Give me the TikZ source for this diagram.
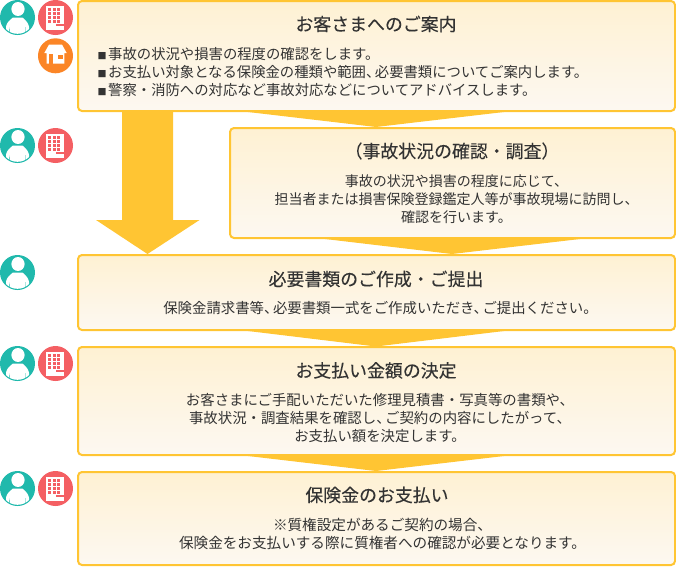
\documentclass[tikz,border=0pt]{standalone}
\usepackage{fontspec}
\setmainfont{Noto Sans CJK JP}
\definecolor{gold}{HTML}{FFC533}
\definecolor{teal}{HTML}{20B9AC}
\definecolor{coral}{HTML}{F45F63}
\definecolor{orng}{HTML}{FB8526}
\definecolor{ink}{HTML}{333333}
\definecolor{boxtop}{HTML}{FEF1D3}
\definecolor{boxbot}{HTML}{FDF8F1}
\newcommand{\cm}{、\kern-5.5pt\relax}
\newcommand{\sq}{{\fontsize{9}{18}\selectfont ■}\kern1.5pt\relax}
\tikzset{
  x=1pt,y=-1pt,
  card/.style={draw=gold,line width=2pt,rounded corners=4pt,top color=boxtop,bottom color=boxbot,inner sep=0pt,outer sep=0pt},
  ttl/.style={font=\fontsize{17.9}{20}\selectfont\addfontfeature{FakeBold=0.15},text=ink,anchor=center},
  body/.style={font=\fontsize{14.4}{18}\selectfont,text=ink,align=center,anchor=center,inner sep=0pt},
  flow/.style={fill=gold,draw=none},
}
\newcommand{\person}[2]{%
  \begin{scope}[shift={(#1,#2)}]
    \fill[teal] (17.5,17.5) circle (17.5);
    \fill[white] (18,9) ellipse (6.6 and 7);
    \begin{scope}
      \clip (17.5,17.5) circle (16.3);
      \fill[white] (6,36) -- (6,26.5) .. controls (7,22) and (10,20) .. (13,17.5) -- (22.5,17.5) .. controls (25,20) and (28,22) .. (29,26.5) -- (29,36) -- cycle;
      \fill[teal] (9,36) -- (9.6,27) -- (10.2,36) -- cycle;
      \fill[teal] (25,36) -- (25.5,27) -- (26,36) -- cycle;
    \end{scope}
  \end{scope}}
\newcommand{\office}[2]{%
  \begin{scope}[shift={(#1,#2)}]
    \fill[coral] (17.5,17.5) circle (17.5);
    \fill[white] (8,6) rectangle (26,29.5);
    \fill[coral] (18,24) rectangle (26,26);
    \foreach \cx in {10,14.5,19} \foreach \cy in {8,12,16,20}
      \fill[coral] (\cx,\cy) rectangle +(3,3);
  \end{scope}}
\newcommand{\house}[2]{%
  \begin{scope}[shift={(#1,#2)}]
    \fill[orng] (17.5,17.5) circle (17.5);
    \fill[white] (6.3,14.7) -- (11,6.3) -- (24,6.3) -- (28.7,14.7) -- (26.3,14.7) -- (26.3,25.3) -- (8.7,25.3) -- (8.7,14.7) -- cycle;
    \fill[orng] (11,15.3) rectangle (15.3,25.3);
    \fill[orng] (20.3,17) rectangle (24.7,21);
  \end{scope}}
\begin{document}
\begin{tikzpicture}
\useasboundingbox (0,0) rectangle (676,566);
% cards
\node[card,minimum width=597pt,minimum height=110pt] (c1) at (376.5,56) {};
\node[card,minimum width=445pt,minimum height=110pt] (c2) at (452.5,183) {};
\node[card,minimum width=597pt,minimum height=75pt] (c3) at (376.5,292.5) {};
\node[card,minimum width=597pt,minimum height=108pt] (c4) at (376.5,401) {};
\node[card,minimum width=597pt,minimum height=93pt] (c5) at (376.5,518.5) {};
% flow shapes
\fill[flow] (122,110) -- (173,110) -- (173,220) -- (199.5,220) -- (147.5,254) -- (96,220) -- (122,220) -- cycle;
\fill[flow] (248,112) -- (504,112) -- (376,127) -- cycle;
\fill[flow] (325,239) -- (580,239) -- (452,254) -- cycle;
\fill[flow] (248,331) -- (504,331) -- (376,346.5) -- cycle;
\fill[flow] (248,456) -- (504,456) -- (376,471) -- cycle;
% texts
\node[ttl] (t1) at (376,24) {お客さまへのご案内};
\node[body,font=\fontsize{14.35}{18}\selectfont,align=left,anchor=west] (b1) at (97.5,72) {\sq 事故の状況や損害の程度の確認をします。\\\sq お支払い対象となる保険金の種類や範囲\cm 必要書類についてご案内します。\\\sq 警察・消防への対応など事故対応などについてアドバイスします。};
\node[ttl] (t2) at (452,151) {（事故状況の確認・調査）};
\node[body,font=\fontsize{14}{18}\selectfont] (b2) at (456.5,199) {事故の状況や損害の程度に応じて、\\担当者または損害保険登録鑑定人等が事故現場に訪問し、\\確認を行います。};
\node[ttl] (t3) at (376,279) {必要書類のご作成・ご提出};
\node[body] (b3) at (380.5,308) {保険金請求書等\cm 必要書類一式をご作成いただき\cm ご提出ください。};
\node[ttl] (t4) at (376,370.5) {お支払い金額の決定};
\node[body] (b4) at (380,418) {お客さまにご手配いただいた修理見積書・写真等の書類や、\\事故状況・調査結果を確認し\cm ご契約の内容にしたがって、\\お支払い額を決定します。};
\node[ttl] (t5) at (377,495) {保険金のお支払い};
\node[body,font=\fontsize{14.6}{18}\selectfont] (b5) at (382.5,534) {※質権設定があるご契約の場合、\\保険金をお支払いする際に質権者への確認が必要となります。};
% icons
\person{0}{0}\office{38}{0}\house{38}{38.3}
\person{0}{128}\office{38}{128}
\person{0}{255}
\person{0}{346}\office{38}{346}
\person{0}{471}\office{38}{471}
\end{tikzpicture}
\end{document}
